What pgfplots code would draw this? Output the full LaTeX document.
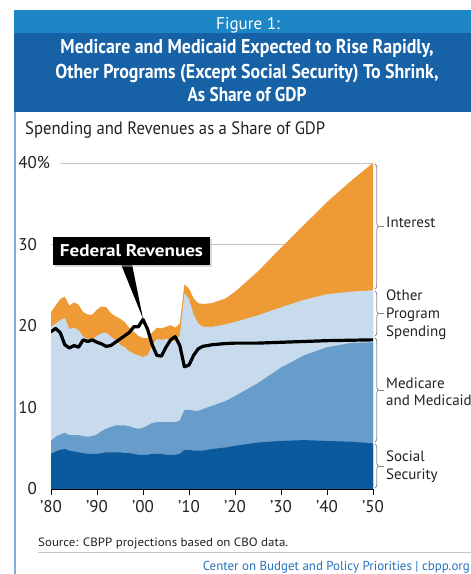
\documentclass[border=0pt]{standalone}
\usepackage{pgfplots}
\pgfplotsset{compat=1.18}
\usepackage{pgfplotstable}
\usepackage{graphicx}
\usepackage{fontspec}
\setmainfont{PT Sans}
\usetikzlibrary{decorations.pathreplacing,shadows}
\definecolor{orng}{HTML}{EE9B35}
\definecolor{lblue}{HTML}{C8DBEC}
\definecolor{mblue}{HTML}{679CCB}
\definecolor{dblue}{HTML}{0C5A9E}
\definecolor{hdrl}{HTML}{1D86C6}
\definecolor{hdrd}{HTML}{1761A6}
\definecolor{bord}{HTML}{7DAEDA}
\definecolor{foot}{HTML}{2672BE}
\definecolor{gridg}{HTML}{C4C4C4}
\definecolor{brc}{HTML}{8C8C8C}
\definecolor{txt}{HTML}{222222}

\pgfplotstableread{
year ss mm oth tot rev
1980 4.3 5.9 19.9 21.7 19.3
1981 4.6 6.4 20.3 22.5 19.7
1982 4.8 6.7 20.7 23.3 19.2
1983 4.9 6.9 21.0 23.6 17.7
1984 4.7 6.6 19.6 22.5 17.3
1985 4.6 6.6 19.8 22.9 17.6
1986 4.5 6.6 19.5 22.6 17.4
1987 4.4 6.5 18.7 21.7 18.3
1988 4.3 6.4 18.4 21.4 18.1
1989 4.3 6.5 18.3 21.4 18.3
1990 4.3 6.7 18.8 22.0 18.0
1991 4.4 7.1 19.1 22.4 17.8
1992 4.5 7.4 19.2 22.3 17.5
1993 4.5 7.6 18.7 21.6 17.6
1994 4.5 7.8 18.3 21.2 18.0
1995 4.5 7.8 17.7 20.9 18.4
1996 4.4 7.8 17.4 20.5 18.8
1997 4.4 7.7 16.9 19.8 19.2
1998 4.3 7.5 16.6 19.3 19.9
1999 4.2 7.4 16.4 18.8 19.9
2000 4.2 7.5 16.2 18.5 20.8
2001 4.2 7.8 16.4 18.5 19.6
2002 4.3 8.1 17.6 19.2 17.7
2003 4.3 8.2 18.4 19.8 16.4
2004 4.3 8.2 18.3 19.7 16.3
2005 4.2 8.2 18.4 19.9 17.4
2006 4.2 8.2 18.4 20.1 18.3
2007 4.2 8.2 18.1 19.8 18.7
2008 4.3 8.4 18.8 20.3 17.6
2009 4.8 9.7 24.0 25.1 15.0
2010 4.8 9.7 23.3 24.6 15.2
2011 4.7 9.6 21.4 23.4 16.4
2012 4.7 9.6 20.3 22.8 17.2
2013 4.7 9.8 19.9 22.7 17.5
2015 4.9 10.2 19.9 22.8 17.7
2018 5.1 10.8 20.2 23.4 17.85
2020 5.3 11.4 20.5 24.2 17.9
2025 5.7 13.0 21.3 26.7 17.9
2030 5.9 14.9 22.3 29.6 18.0
2035 6.0 16.4 23.2 32.4 18.1
2040 5.9 17.4 23.9 35.2 18.2
2045 5.8 17.9 24.2 37.7 18.25
2050 5.6 18.0 24.4 40.0 18.3
}\datatable

\begin{document}
\begin{tikzpicture}[x=1bp,y=1bp]
\useasboundingbox (0,0) rectangle (471,574);
\fill[white] (0,0) rectangle (471,574);
% header
\fill[hdrl] (13.5,541) rectangle (471,564);
\fill[hdrd] (13.5,462) rectangle (471,541);
\draw[bord, line width=2.5bp] (15,462) -- (15,0);
\node[white, anchor=base, inner sep=0pt, font=\fontsize{17bp}{20bp}\selectfont] at (248,544.7) {Figure 1:};
\node[white, anchor=base, inner sep=0pt, font=\bfseries\fontsize{20bp}{22bp}\selectfont] at (247,520.7) {\resizebox{373bp}{\height}{Medicare and Medicaid Expected to Rise Rapidly,}};
\node[white, anchor=base, inner sep=0pt, font=\bfseries\fontsize{20bp}{22bp}\selectfont] at (247,495.7) {\resizebox{383bp}{\height}{Other Programs (Except Social Security) To Shrink,}};
\node[white, anchor=base, inner sep=0pt, font=\bfseries\fontsize{20bp}{22bp}\selectfont] at (247,472.3) {\resizebox{119bp}{\height}{As Share of GDP}};
% subtitle
\node[txt, anchor=base west, inner sep=0pt, font=\fontsize{18bp}{20bp}\selectfont] at (25,439) {\resizebox{300bp}{\height}{Spending and Revenues as a Share of GDP}};

\begin{axis}[
  at={(51bp,85bp)}, anchor=south west,
  scale only axis, width=322bp, height=326bp,
  xmin=1980, xmax=2050, ymin=0, ymax=40,
  axis x line*=bottom, axis y line*=left,
  x axis line style={line width=1.8bp, black, -},
  y axis line style={draw=none},
  xtick={1980,1990,2000,2010,2020,2030,2040,2050},
  xticklabels={’80,’90,’00,’10,’20,’30,’40,’50},
  ytick={0,10,20,30,40},
  yticklabels={0,10,20,30,40\rlap{\%}},
  tick align=outside,
  major tick length=6bp,
  xtick style={black, line width=1bp},
  ytick style={draw=none},
  ticklabel style={font=\fontsize{17bp}{20bp}\selectfont, text=txt},
  yticklabel style={anchor=east, inner sep=0pt, xshift=-8bp},
  xticklabel style={anchor=base, inner sep=0pt, yshift=-18bp},
]
\draw[gridg, line width=0.7bp] (axis cs:1980,30) -- (axis cs:2050,30);
\draw[gridg, line width=0.7bp] (axis cs:1982,40) -- (axis cs:2050,40);
\addplot[fill=orng, draw=none] table[x=year,y=tot]{\datatable} \closedcycle;
\addplot[fill=lblue, draw=none] table[x=year,y=oth]{\datatable} \closedcycle;
\addplot[fill=mblue, draw=none] table[x=year,y=mm]{\datatable} \closedcycle;
\addplot[fill=dblue, draw=none] table[x=year,y=ss]{\datatable} \closedcycle;
\addplot[black, line width=3.2bp, line join=round, line cap=round] table[x=year,y=rev]{\datatable};
% callout
\fill[black] (axis cs:1995.2,27.6) -- (axis cs:1997.6,27.6) -- (axis cs:2000,20.9) -- cycle;
\node[fill=black, text=white, minimum width=157bp, minimum height=28bp, inner sep=0pt,
      drop shadow={shadow xshift=1.5bp, shadow yshift=-1.5bp, fill=gray!60},
      font=\bfseries\fontsize{17bp}{20bp}\selectfont] at (axis cs:1997.5,29.2)
      {\resizebox{143bp}{\height}{Federal Revenues}};
\end{axis}

% braces
\begin{scope}[brc, line width=0.8bp, decoration={brace, amplitude=3.5bp}]
\draw[decorate] (375,410) -- (375,285);
\draw[decorate] (375,283) -- (375,238);
\draw[decorate] (375,236) -- (375,132);
\draw[decorate] (375,130) -- (375,86);
\draw (378.5,347.5) -- (384,347.5);
\draw (378.5,260.5) -- (384,260.5);
\draw (378.5,184) -- (384,184);
\draw (378.5,108) -- (384,108);
\end{scope}
\begin{scope}[every node/.style={anchor=west, inner sep=0pt, text=txt, align=left, font=\fontsize{15bp}{18bp}\selectfont}]
\node at (386,352) {Interest};
\node at (386,259) {Other\\Program\\Spending};
\node[font=\fontsize{15bp}{17bp}\selectfont] at (386,182.5) {Medicare\\and Medicaid};
\node at (386,107) {Social\\Security};
\end{scope}

% footer
\node[anchor=base west, inner sep=0pt, text=txt, font=\fontsize{12bp}{14bp}\selectfont] at (38,27.5) {\resizebox{250bp}{\height}{Source: CBPP projections based on CBO data.}};
\draw[gray!45, line width=1bp] (38,21) -- (471,21);
\node[anchor=base east, inner sep=0pt, text=foot, font=\fontsize{13bp}{15bp}\selectfont] at (470,4) {\resizebox{267bp}{\height}{Center on Budget and Policy Priorities | cbpp.org}};
\end{tikzpicture}
\end{document}
